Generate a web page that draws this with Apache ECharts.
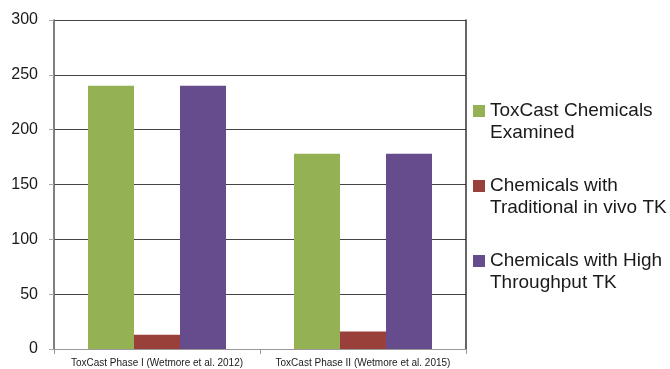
<!DOCTYPE html>
<html><head><meta charset="utf-8">
<script src="https://cdn.jsdelivr.net/npm/echarts@6/dist/echarts.min.js"></script>
<style>html,body{margin:0;padding:0;background:#fff}#c{width:670px;height:369px}</style>
</head><body><div id="c"></div>
<script>
var categories = ['ToxCast Phase I (Wetmore et al. 2012)', 'ToxCast Phase II (Wetmore et al. 2015)'];
var examined = [240, 178];
var traditionalTK = [13, 16];
var highThroughputTK = [240, 178];
var seriesNames = ['ToxCast Chemicals Examined', 'Chemicals with Traditional in vivo TK', 'Chemicals with High Throughput TK'];
var legendLabels = ['ToxCast Chemicals\nExamined', 'Chemicals with\nTraditional in vivo TK', 'Chemicals with High\nThroughput TK'];
var yTicks = [0, 50, 100, 150, 200, 250, 300];

var chart = echarts.init(document.getElementById('c'));
var labelMap = {};
seriesNames.forEach(function(n, i){ labelMap[n] = legendLabels[i]; });
chart.setOption({
  animation: false,
  textStyle: {fontFamily: 'Liberation Sans, Arial, sans-serif'},
  grid: {left: 54, right: 204, top: 20, bottom: 20, containLabel: false},
  legend: {
    orient: 'vertical', left: 468, top: 73,
    itemWidth: 12, itemHeight: 12, itemGap: 9, icon: 'rect',
    formatter: function(n){ return '{e|}\n' + labelMap[n]; },
    textStyle: {fontSize: 19, color: '#1a1a1a', lineHeight: 22,
      rich: {e: {fontSize: 19, lineHeight: 22}}},
    data: seriesNames
  },
  xAxis: {
    type: 'category', data: categories,
    axisLine: {lineStyle: {color: '#999', width: 1}},
    axisTick: {show: true, length: 5, lineStyle: {color: '#999'}},
    axisLabel: {interval: 0, fontSize: 10, color: '#1a1a1a', margin: 9}
  },
  yAxis: [{
    type: 'value', min: 0, max: 300, interval: 50,
    axisLine: {show: true, lineStyle: {color: '#555', width: 1.5}},
    axisTick: {show: true, length: 5, lineStyle: {color: '#aaa'}},
    axisLabel: {fontSize: 16, color: '#1a1a1a', margin: 16,
      formatter: function(v){ return yTicks.indexOf(v) >= 0 ? String(v) : ''; }},
    splitLine: {show: true, lineStyle: {color: '#444', width: 1}}
  }, {
    type: 'value', min: 0, max: 300, interval: 50, position: 'right',
    axisLine: {show: true, lineStyle: {color: '#333', width: 1.5}},
    axisTick: {show: false}, axisLabel: {show: false}, splitLine: {show: false}
  }],
  series: [
    {name: seriesNames[0], type: 'bar', data: examined, barGap: 0, barCategoryGap: '33%', itemStyle: {color: '#94B153'}},
    {name: seriesNames[1], type: 'bar', data: traditionalTK, barGap: 0, barCategoryGap: '33%', itemStyle: {color: '#9A403B'}},
    {name: seriesNames[2], type: 'bar', data: highThroughputTK, barGap: 0, barCategoryGap: '33%', itemStyle: {color: '#664C8D'}}
  ]
});
</script></body></html>
